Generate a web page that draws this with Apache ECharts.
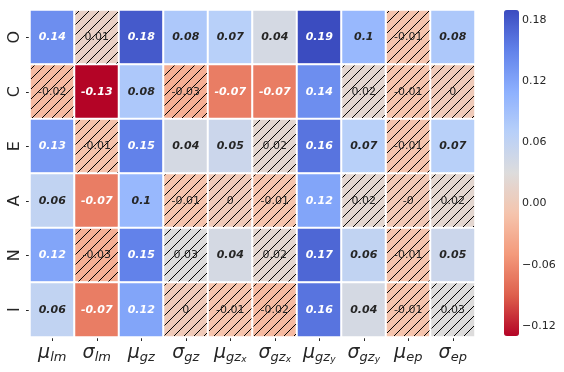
<!DOCTYPE html>
<html>
<head>
<meta charset="utf-8">
<script src="https://cdn.jsdelivr.net/npm/echarts@6/dist/echarts.min.js"></script>
<style>
  html, body { margin: 0; padding: 0; background: #fff; }
  #chart { width: 564px; height: 372px; }
</style>
</head>
<body>
<div id="chart"></div>
<script>
// 行: 人格维度, 列: 特征
const traits = ['O', 'C', 'E', 'A', 'N', 'I'];
const features = ['mu_lm', 'sigma_lm', 'mu_gz', 'sigma_gz', 'mu_gzx', 'sigma_gzx', 'mu_gzy', 'sigma_gzy', 'mu_ep', 'sigma_ep'];
const featureLabels = [
  '{m|μ}{s|lm}', '{m|σ}{s|lm}', '{m|μ}{s|gz}', '{m|σ}{s|gz}',
  '{m|μ}{s|gz}{ss|x}', '{m|σ}{s|gz}{ss|x}', '{m|μ}{s|gz}{ss|y}', '{m|σ}{s|gz}{ss|y}',
  '{m|μ}{s|ep}', '{m|σ}{s|ep}'
];
const valO = [0.14, 0.01, 0.18, 0.08, 0.07, 0.04, 0.19, 0.1, -0.01, 0.08];
const valC = [-0.02, -0.13, 0.08, -0.03, -0.07, -0.07, 0.14, 0.02, -0.01, 0];
const valE = [0.13, -0.012, 0.15, 0.04, 0.05, 0.02, 0.16, 0.07, -0.01, 0.07];
const valA = [0.06, -0.07, 0.1, -0.01, 0, -0.01, 0.12, 0.02, -0.003, 0.02];
const valN = [0.12, -0.03, 0.15, 0.03, 0.04, 0.02, 0.17, 0.06, -0.01, 0.05];
const valI = [0.06, -0.07, 0.12, 0, -0.01, -0.02, 0.16, 0.04, -0.01, 0.03];
// 1 = 显著, 0 = 不显著(斜线)
const sigO = [1, 0, 1, 1, 1, 1, 1, 1, 0, 1];
const sigC = [0, 1, 1, 0, 1, 1, 1, 0, 0, 0];
const sigE = [1, 0, 1, 1, 1, 0, 1, 1, 0, 1];
const sigA = [1, 1, 1, 0, 0, 0, 1, 0, 0, 0];
const sigN = [1, 0, 1, 0, 1, 0, 1, 1, 0, 1];
const sigI = [1, 1, 1, 0, 0, 0, 1, 1, 0, 0];
const colorbarTicks = [-0.12, -0.06, 0, 0.06, 0.12, 0.18];
const vMin = -0.13, vMax = 0.19;

const values = [valO, valC, valE, valA, valN, valI];
const sigs = [sigO, sigC, sigE, sigA, sigN, sigI];

const data = [];
values.forEach((row, r) => {
  row.forEach((v, c) => {
    data.push([c, r, v, sigs[r][c]]);
  });
});

function fmt(v) {
  const r = Math.round(v * 100) / 100;
  if (r === 0) return v < 0 ? '-0' : '0';
  return String(r);
}

const font = 'DejaVu Sans';
const textDark = '#262626';
const hatchStep = 10;

const myChart = echarts.init(document.getElementById('chart'));
const option = {
  backgroundColor: '#fff',
  animation: false,
  grid: [
    { left: 30, top: 10, width: 445, height: 327 },
    { left: 504, top: 10, width: 15, height: 326 }
  ],
  xAxis: [
    {
      type: 'category',
      gridIndex: 0,
      data: featureLabels,
      axisLine: { show: false },
      axisTick: { show: true, alignWithLabel: true, length: 4, lineStyle: { color: textDark } },
      splitLine: { show: false },
      axisLabel: {
        margin: 5,
        interval: 0,
        formatter: (v) => v,
        rich: {
          m: { fontFamily: font, fontStyle: 'italic', fontSize: 19, lineHeight: 22, color: textDark },
          s: { fontFamily: font, fontStyle: 'italic', fontSize: 13, lineHeight: 13, padding: [10, 0, 0, 0], verticalAlign: 'bottom', color: textDark },
          ss: { fontFamily: font, fontStyle: 'italic', fontSize: 9, lineHeight: 9, padding: [16, 0, 0, 0], verticalAlign: 'bottom', color: textDark }
        }
      }
    },
    { type: 'value', gridIndex: 1, show: false, min: 0, max: 1 }
  ],
  yAxis: [
    {
      type: 'category',
      gridIndex: 0,
      inverse: true,
      data: traits,
      axisLine: { show: false },
      axisTick: { show: true, alignWithLabel: true, length: 4, lineStyle: { color: textDark } },
      axisLabel: { rotate: 90, margin: 7, fontFamily: font, fontSize: 16, color: textDark }
    },
    {
      type: 'value',
      gridIndex: 1,
      position: 'right',
      min: vMin,
      max: vMax,
      axisLine: { show: false },
      splitLine: { show: false },
      axisTick: { show: true, length: 4, customValues: colorbarTicks, lineStyle: { color: textDark } },
      axisLabel: {
        customValues: colorbarTicks,
        margin: 3,
        fontFamily: font,
        fontSize: 11,
        color: textDark,
        formatter: (v) => (v < 0 ? '\u2212' : '') + Math.abs(v).toFixed(2)
      }
    }
  ],
  visualMap: {
    type: 'continuous',
    seriesIndex: 0,
    dimension: 2,
    min: vMin,
    max: vMax,
    calculable: false,
    orient: 'vertical',
    left: 504,
    top: 10,
    itemWidth: 15,
    itemHeight: 326,
    padding: 0,
    text: null,
    inRange: {
      color: ['#b40426', '#de604d', '#f49a7b', '#f5c4ad', '#dddcdc', '#b8d0f9', '#8db0fe', '#6282ea', '#3b4cc0']
    }
  },
  series: [
    {
      type: 'heatmap',
      xAxisIndex: 0,
      yAxisIndex: 0,
      data: data,
      itemStyle: { borderColor: '#fff', borderWidth: 2 },
      label: { show: false }
    },
    {
      type: 'custom',
      xAxisIndex: 0,
      yAxisIndex: 0,
      data: data,
      z: 5,
      silent: true,
      renderItem: function (params, api) {
        const p = api.coord([api.value(0), api.value(1)]);
        const s = api.size([1, 1]);
        const v = api.value(2);
        const sig = api.value(3);
        const x0 = p[0] - s[0] / 2 + 1, x1 = p[0] + s[0] / 2 - 1;
        const y0 = p[1] - s[1] / 2 + 1, y1 = p[1] + s[1] / 2 - 1;
        const children = [];
        if (!sig) {
          const cStart = Math.ceil((x0 + y0) / hatchStep) * hatchStep;
          for (let c = cStart; c < x1 + y1; c += hatchStep) {
            const xa = Math.max(x0, c - y1);
            const xb = Math.min(x1, c - y0);
            if (xb <= xa) continue;
            children.push({
              type: 'line',
              shape: { x1: xa, y1: c - xa, x2: xb, y2: c - xb },
              style: { stroke: '#000', lineWidth: 1 }
            });
          }
        }
        const white = sig && (v >= 0.115 || v <= -0.065);
        children.push({
          type: 'text',
          x: p[0],
          y: p[1],
          style: {
            text: fmt(v),
            align: 'center',
            verticalAlign: 'middle',
            fontFamily: font,
            fontSize: 11,
            fontWeight: sig ? 'bold' : 'normal',
            fontStyle: sig ? 'italic' : 'normal',
            fill: white ? '#fff' : textDark
          }
        });
        return { type: 'group', children: children };
      }
    }
  ]
};
myChart.setOption(option);
</script>
</body>
</html>
